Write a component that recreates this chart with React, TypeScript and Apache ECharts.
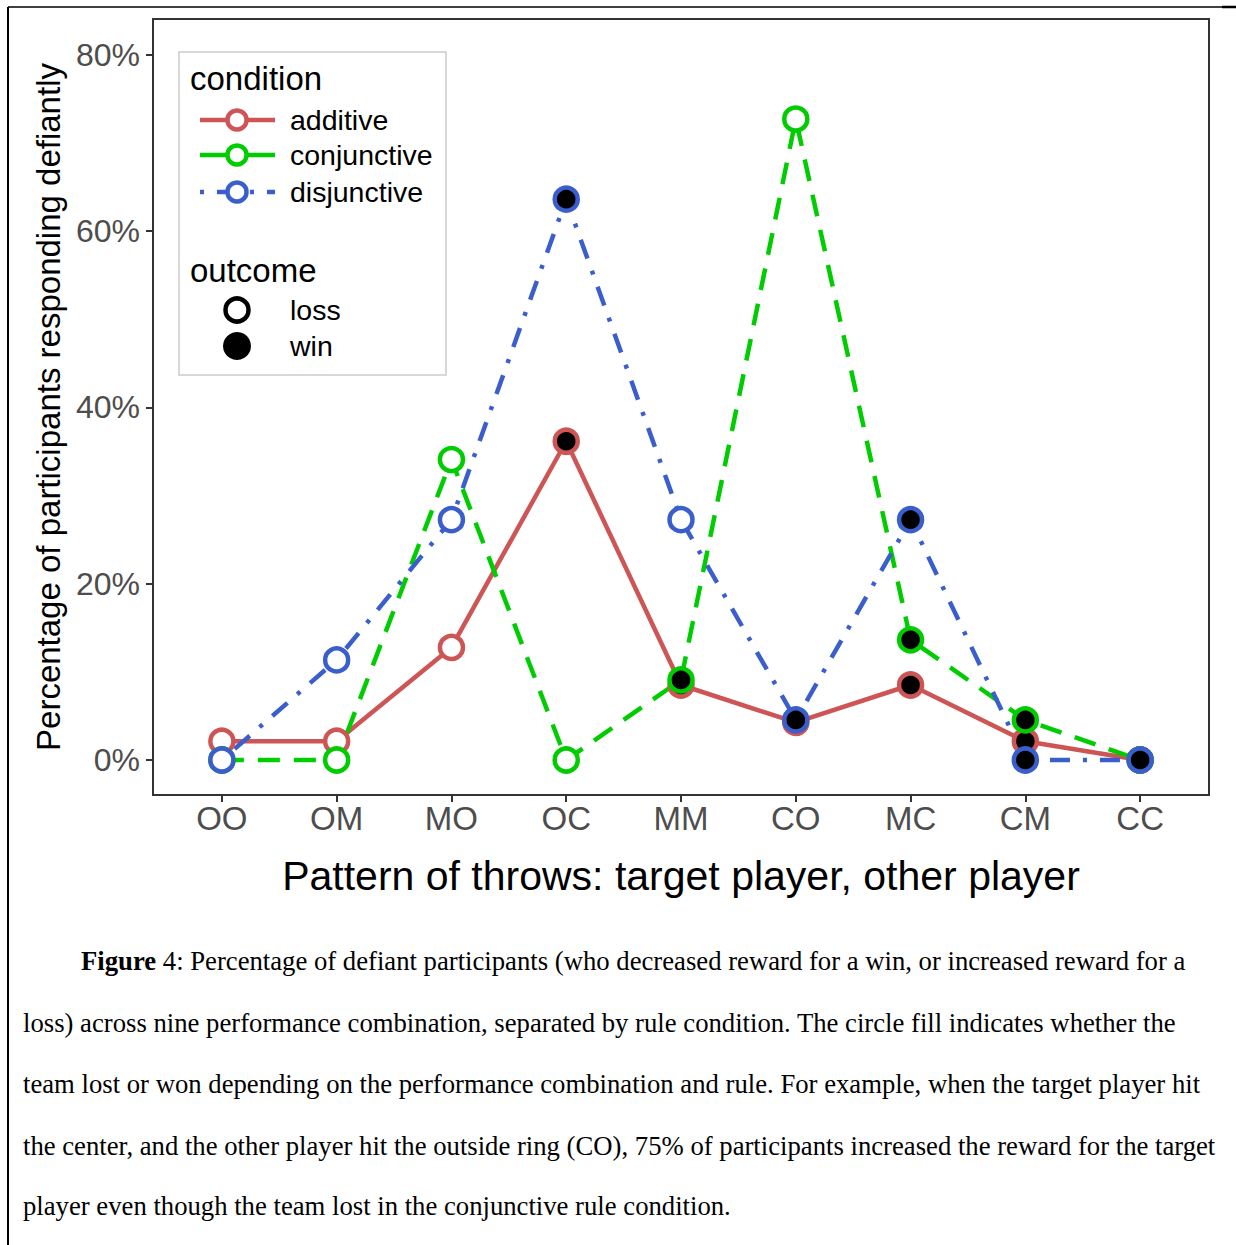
import React, { useEffect, useRef } from "react";
import * as echarts from "echarts";

const categories = ["OO", "OM", "MO", "OC", "MM", "CO", "MC", "CM", "CC"];
const additive = [2.13, 2.13, 12.77, 36.17, 8.51, 4.26, 8.51, 2.13, 0];
const conjunctive = [0, 0, 34.09, 0, 9.09, 72.73, 13.64, 4.55, 0];
const disjunctive = [0, 11.36, 27.27, 63.64, 27.27, 4.55, 27.27, 0, 0];
const additiveOutcome = ["loss", "loss", "loss", "win", "win", "win", "win", "win", "win"];
const conjunctiveOutcome = ["loss", "loss", "loss", "loss", "win", "loss", "win", "win", "win"];
const disjunctiveOutcome = ["loss", "loss", "loss", "win", "loss", "win", "win", "win", "win"];
const yTicks = [0, 20, 40, 60, 80];

const captionLines = [
  "{b|Figure} 4: Percentage of defiant participants (who decreased reward for a win, or increased reward for a",
  "loss) across nine performance combination, separated by rule condition. The circle fill indicates whether the",
  "team lost or won depending on the performance combination and rule. For example, when the target player hit",
  "the center, and the other player hit the outside ring (CO), 75% of participants increased the reward for the target",
  "player even though the team lost in the conjunctive rule condition.",
];

const RED = "#CD5555";
const GREEN = "#00CD00";
const BLUE = "#3A5FCD";
const SANS = "'Liberation Sans', Arial, Helvetica, sans-serif";
const SERIF = "'Liberation Serif', 'Times New Roman', serif";
const CAP_SIZE = 26.7;

export default function App() {
  const ref = useRef<HTMLDivElement>(null);
  useEffect(() => {
    if (!ref.current) return;
    const chart = echarts.init(ref.current, null, { renderer: "svg" });
    const conds = [
      { name: "additive", data: additive, out: additiveOutcome, color: RED, dash: "solid" as any },
      { name: "conjunctive", data: conjunctive, out: conjunctiveOutcome, color: GREEN, dash: [22, 14] },
      { name: "disjunctive", data: disjunctive, out: disjunctiveOutcome, color: BLUE, dash: [4, 13, 20, 13] },
    ];
    const lineSeries = conds.map((c) => ({
      type: "line",
      name: c.name + "-line",
      data: c.data.map((v, i) => [i, v]),
      symbol: "none",
      lineStyle: { color: c.color, width: 4.5, type: c.dash, opacity: 1 },
      z: 2,
      silent: true,
    }));
    const pointSeries = conds.map((c) => ({
      type: "scatter",
      name: c.name,
      data: c.data.map((v, i) => ({
        value: [i, v],
        itemStyle: {
          color: c.out[i] === "win" ? "#000000" : "#FFFFFF",
          borderColor: c.color,
          borderWidth: 4.5,
          opacity: 1,
        },
      })),
      itemStyle: { opacity: 1 },
      symbol: "circle",
      symbolSize: 23,
      z: 3,
      silent: true,
    }));

    const legendLineY = [120, 155, 192];
    const graphics: any[] = [
      // page frame
      { type: "line", shape: { x1: 8, y1: 7, x2: 1222, y2: 7 }, style: { stroke: "#000", lineWidth: 1.5 } },
      { type: "line", shape: { x1: 1222, y1: 7, x2: 1236, y2: 7 }, style: { stroke: "#000", lineWidth: 2.5 } },
      { type: "line", shape: { x1: 8, y1: 7, x2: 8, y2: 1245 }, style: { stroke: "#000", lineWidth: 2 } },
      // axis titles
      {
        type: "text", x: 681, y: 876,
        style: { text: "Pattern of throws: target player, other player", fontSize: 41, fontFamily: SANS, fill: "#000", align: "center", verticalAlign: "middle" },
      },
      {
        type: "text", x: 48, y: 407, rotation: Math.PI / 2,
        style: { text: "Percentage of participants responding defiantly", fontSize: 33, fontFamily: SANS, fill: "#000", align: "center", verticalAlign: "middle" },
      },
      // legend box
      { type: "rect", shape: { x: 179, y: 52, width: 267, height: 323 }, style: { fill: "#FFFFFF", stroke: "#CCCCCC", lineWidth: 1.5 }, z: 10 },
      { type: "text", x: 190, y: 78, z: 11, style: { text: "condition", fontSize: 33, fontFamily: SANS, fill: "#000", align: "left", verticalAlign: "middle" } },
      { type: "text", x: 190, y: 270, z: 11, style: { text: "outcome", fontSize: 33, fontFamily: SANS, fill: "#000", align: "left", verticalAlign: "middle" } },
      { type: "circle", shape: { cx: 237, cy: 310, r: 11.5 }, z: 11, style: { fill: "#FFFFFF", stroke: "#000", lineWidth: 4.5 } },
      { type: "text", x: 290, y: 310, z: 11, style: { text: "loss", fontSize: 28.5, fontFamily: SANS, fill: "#000", align: "left", verticalAlign: "middle" } },
      { type: "circle", shape: { cx: 237, cy: 346, r: 14 }, z: 11, style: { fill: "#000", stroke: "none" } },
      { type: "text", x: 290, y: 346, z: 11, style: { text: "win", fontSize: 28.5, fontFamily: SANS, fill: "#000", align: "left", verticalAlign: "middle" } },
    ];
    conds.forEach((c, k) => {
      const y = legendLineY[k];
      graphics.push({
        type: "line", z: 11, shape: { x1: 200, y1: y, x2: 275, y2: y },
        style: { stroke: c.color, lineWidth: 4.5, lineDash: c.dash === "solid" || k === 1 ? null : c.dash },
      });
      graphics.push({ type: "circle", z: 12, shape: { cx: 237, cy: y, r: 9.5 }, style: { fill: "#FFFFFF", stroke: c.color, lineWidth: 4.5 } });
      graphics.push({
        type: "text", x: 290, y, z: 12,
        style: { text: c.name, fontSize: 28.5, fontFamily: SANS, fill: "#000", align: "left", verticalAlign: "middle" },
      });
    });
    const capY = [961, 1023, 1084, 1146, 1206];
    captionLines.forEach((t, i) => {
      graphics.push({
        type: "text", x: i === 0 ? 81 : 23, y: capY[i],
        style: {
          text: t, fontSize: CAP_SIZE, fontFamily: SERIF, fill: "#000", align: "left", verticalAlign: "middle",
          rich: { b: { fontWeight: "bold", fontSize: CAP_SIZE, fontFamily: SERIF, fill: "#000" } },
        },
      });
    });

    chart.setOption({
      animation: false,
      backgroundColor: "#FFFFFF",
      grid: { left: 153, top: 19, width: 1056, height: 776, show: true, borderColor: "#333333", borderWidth: 2, backgroundColor: "transparent" },
      xAxis: {
        type: "value",
        min: -0.6,
        max: 8.6,
        axisLine: { show: true, onZero: false, lineStyle: { color: "#333333", width: 2 } },
        axisTick: { show: true, inside: false, length: 7, lineStyle: { color: "#333333", width: 2 }, customValues: categories.map((_, i) => i) },
        axisLabel: {
          show: true, margin: 7, fontSize: 33, fontFamily: SANS, color: "#4D4D4D",
          customValues: categories.map((_, i) => i),
          formatter: (v: number) => categories[Math.round(v)] ?? "",
        },
        splitLine: { show: false },
      },
      yAxis: {
        type: "value",
        min: -3.97,
        max: 84.08,
        axisLine: { show: true, onZero: false, lineStyle: { color: "#333333", width: 2 } },
        axisTick: { show: true, inside: false, length: 7, lineStyle: { color: "#333333", width: 2 }, customValues: yTicks },
        axisLabel: {
          show: true, margin: 13, fontSize: 32, fontFamily: SANS, color: "#4D4D4D",
          customValues: yTicks,
          formatter: (v: number) => Math.round(v) + "%",
        },
        splitLine: { show: false },
      },
      series: [...lineSeries, ...pointSeries],
      graphic: graphics,
    } as any);
    return () => chart.dispose();
  }, []);
  return (
    <div style={{ position: "absolute", left: 0, top: 0, width: 1236, height: 1245, background: "#fff" }}>
      <div ref={ref} style={{ width: 1236, height: 1245 }} />
    </div>
  );
}
